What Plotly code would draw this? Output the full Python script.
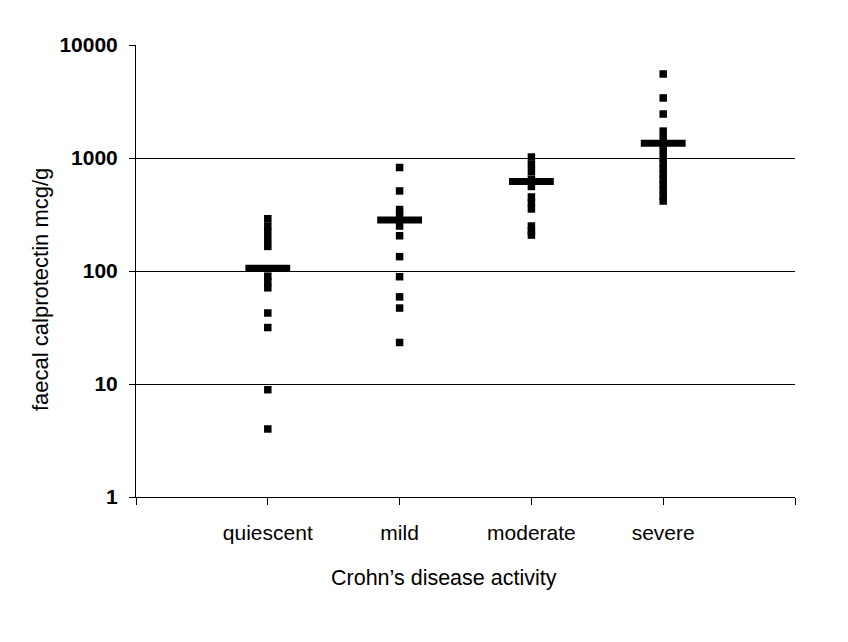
import plotly.graph_objects as go

categories = ["quiescent", "mild", "moderate", "severe"]

quiescent_values = [290, 250, 220, 190, 165, 90, 80, 71, 42.5, 31.6, 8.9, 4.0]
mild_values = [824, 511, 350, 310, 250, 205, 134, 89, 59, 47, 23.3]
moderate_values = [1020, 880, 760, 650, 560, 452, 400, 354, 250, 225, 208]
severe_values = [5540, 3400, 2450, 1730, 1500, 1300, 1150, 1000, 900, 800, 720, 650,
                 580, 520, 460, 416]
mean_values = [106, 283, 618, 1349]

y_tick_vals = [1, 10, 100, 1000, 10000]
y_tick_text = ["1", "10", "100", "1000", "10000"]

x_title = "Crohn\u2019s disease activity"
y_title = "faecal calprotectin mcg/g"

series = [quiescent_values, mild_values, moderate_values, severe_values]

fig = go.Figure()
for i, vals in enumerate(series):
    fig.add_trace(go.Scatter(
        x=[i + 1] * len(vals), y=vals, mode="markers",
        marker=dict(symbol="square", size=7.5, color="black", line=dict(width=0)),
        showlegend=False, hoverinfo="y"))

fig.add_trace(go.Scatter(
    x=[i + 1 for i in range(len(categories))], y=mean_values, mode="markers",
    marker=dict(symbol="line-ew", size=32, line=dict(width=7, color="black")),
    showlegend=False, hoverinfo="y"))

font_family = "Liberation Sans, Arial, sans-serif"
fig.update_layout(
    width=848, height=642,
    margin=dict(l=128, r=61, t=37, b=153),
    paper_bgcolor="white", plot_bgcolor="white",
    font=dict(family=font_family, size=21, color="black"),
    xaxis=dict(
        range=[0, len(categories) + 1],
        tickvals=list(range(0, len(categories) + 2)),
        ticktext=[""] + categories + [""],
        ticks="outside", ticklen=7, tickwidth=1, tickcolor="black",
        showline=True, linecolor="black", linewidth=1,
        showgrid=False, zeroline=False,
        ticklabelstandoff=10,
        tickfont=dict(size=21),
    ),
    yaxis=dict(
        type="log", range=[0, 4],
        tickvals=y_tick_vals, ticktext=y_tick_text,
        ticks="outside", ticklen=6, tickwidth=1, tickcolor="black",
        showline=True, linecolor="black", linewidth=1,
        showgrid=True, gridcolor="black", gridwidth=1,
        zeroline=False,
        ticklabelstandoff=7,
        tickfont=dict(size=21, weight="bold"),
    ),
    annotations=[
        dict(text=x_title, xref="paper", yref="paper", x=0.5, y=0,
             xanchor="center", yanchor="middle", xshift=-22, yshift=-81,
             showarrow=False, font=dict(size=21.5)),
        dict(text=y_title, xref="paper", yref="paper", x=0, y=0.5,
             xanchor="center", yanchor="middle", xshift=-96, yshift=-19,
             textangle=-90, showarrow=False, font=dict(size=22)),
    ],
)

fig.write_html("out.html")
